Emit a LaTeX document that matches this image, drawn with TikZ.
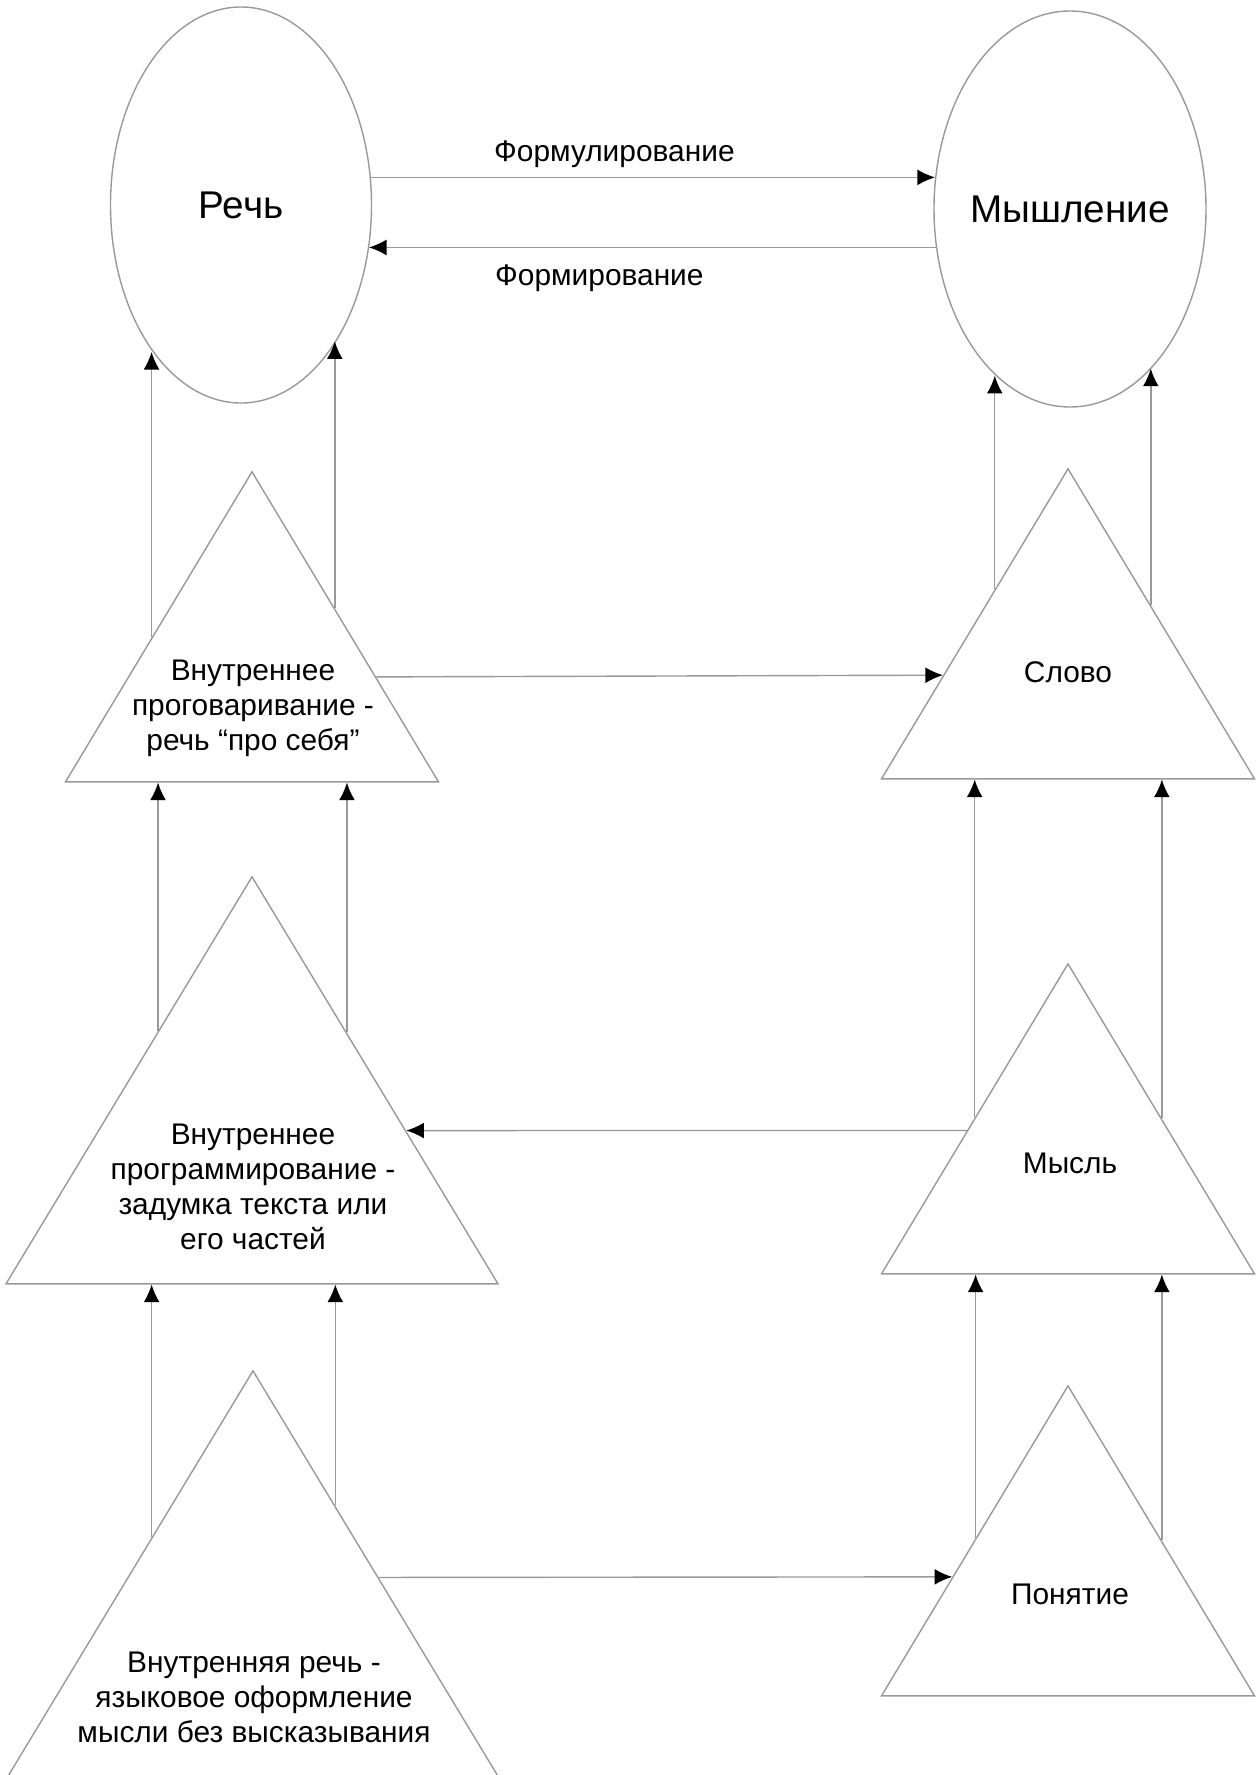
\documentclass[tikz,border=0pt]{standalone}
\usepackage{fontspec}
\setmainfont{Liberation Sans}
\usetikzlibrary{shapes.geometric,arrows.meta,calc}

\begin{document}
\begin{tikzpicture}[
  every node/.style={text=black},
  oval/.style={ellipse, draw=black!40, line width=0.8pt, inner sep=0pt},
  tri/.style={isosceles triangle, isosceles triangle stretches, shape border rotate=90,
    draw=black!40, line width=0.8pt, inner sep=0pt, anchor=apex,
    minimum width=7.46cm, minimum height=6.2cm},
  bigtri/.style={tri, minimum width=9.84cm, minimum height=8.14cm},
  txt/.style={align=center, font=\fontsize{17}{20}\selectfont},
  bigtxt/.style={font=\fontsize{22}{26}\selectfont},
  arr/.style={draw=black!40, line width=0.8pt, -{Latex[length=10pt, width=9pt, color=black]}}]
\useasboundingbox (0,0) rectangle (25.2,-35.5);
\node[oval, minimum width=5.22cm, minimum height=7.92cm, label={[bigtxt]center:Речь}] (E1) at (4.820, -4.100) {};
\node[oval, minimum width=5.44cm, minimum height=7.92cm, label={[bigtxt]center:Мышление}] (E2) at (21.400, -4.180) {};
\node[tri] (L1) at (5.040, -9.400) {};
\node[tri] (R1) at (21.360, -9.340) {};
\node[bigtri] (L2) at (5.040, -17.500) {};
\node[tri] (R2) at (21.360, -19.240) {};
\node[bigtri] (L3) at (5.060, -27.380) {};
\node[tri] (R3) at (21.360, -27.680) {};
\node[txt] (L1t) at (5.060, -14.160) {Внутреннее\\проговаривание -\\речь “про себя”};
\node[txt] (R1t) at (21.360, -13.440) {Слово};
\node[txt] (L2t) at (5.060, -23.740) {Внутреннее\\программирование -\\задумка текста или\\его частей};
\node[txt] (R2t) at (21.400, -23.260) {Мысль};
\node[txt] (L3t) at (5.080, -33.940) {Внутренняя речь -\\языковое оформление\\мысли без высказывания};
\node[txt] (R3t) at (21.400, -31.880) {Понятие};
\node[txt, anchor=west] (F1) at (9.760, -3.080) {Формулирование};
\node[txt, anchor=west] (F2) at (9.780, -5.560) {Формирование};
% between the ovals
\draw[arr] (E1.12) coordinate (a) -- (a -| E2.167);
\draw[arr] (E2.196) coordinate (a) -- (a -| E1.341);
% up into the ovals
\draw[arr] ($(L1.apex)!0.535!(L1.left corner)$) coordinate (a) -- (a |- E1.239);
\draw[arr] ($(L1.apex)!0.441!(L1.right corner)$) coordinate (a) -- (a |- E1.305);
\draw[arr] ($(R1.apex)!0.390!(R1.left corner)$) coordinate (a) -- (a |- E2.246);
\draw[arr] ($(R1.apex)!0.441!(R1.right corner)$) coordinate (a) -- (a |- E2.297);
% up between triangles
\draw[arr] ($(L2.apex)!0.380!(L2.left corner)$) coordinate (a) -- (a |- L1.left corner);
\draw[arr] ($(L2.apex)!0.384!(L2.right corner)$) coordinate (a) -- (a |- L1.right corner);
\draw[arr] ($(R2.apex)!0.497!(R2.left corner)$) coordinate (a) -- (a |- R1.left corner);
\draw[arr] ($(R2.apex)!0.500!(R2.right corner)$) coordinate (a) -- (a |- R1.right corner);
\draw[arr] ($(L3.apex)!0.410!(L3.left corner)$) coordinate (a) -- (a |- L2.left corner);
\draw[arr] ($(L3.apex)!0.333!(L3.right corner)$) coordinate (a) -- (a |- L2.right corner);
\draw[arr] ($(R3.apex)!0.492!(R3.left corner)$) coordinate (a) -- (a |- R2.left corner);
\draw[arr] ($(R3.apex)!0.500!(R3.right corner)$) coordinate (a) -- (a |- R2.right corner);
% across
\draw[arr] ($(L1.apex)!0.662!(L1.right corner)$) -- ($(R1.apex)!0.666!(R1.left corner)$);
\draw[arr] ($(R2.apex)!0.539!(R2.left corner)$) -- ($(L2.apex)!0.624!(L2.right corner)$);
\draw[arr] ($(L3.apex)!0.509!(L3.right corner)$) -- ($(R3.apex)!0.617!(R3.left corner)$);
\end{tikzpicture}
\end{document}
